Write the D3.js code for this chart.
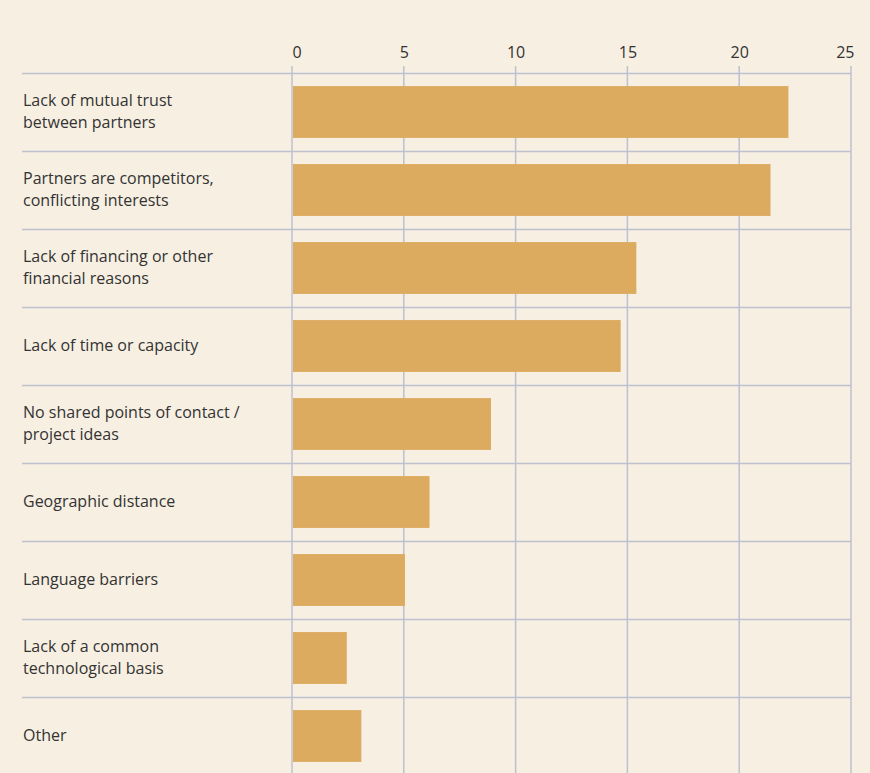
<!DOCTYPE html>
<html>
<head>
<meta charset="utf-8">
<script src="https://cdn.jsdelivr.net/npm/d3@7"></script>
<style>
  html, body { margin: 0; padding: 0; background: #f7efe2; }
  svg { display: block; }
  text { font-family: "Open Sans", "Noto Sans", sans-serif; fill: #333333; }
</style>
</head>
<body>
<svg id="chart" width="870" height="773"></svg>
<script>
const categories = [
  ["Lack of mutual trust", "between partners"],
  ["Partners are competitors,", "conflicting interests"],
  ["Lack of financing or other", "financial reasons"],
  ["Lack of time or capacity"],
  ["No shared points of contact /", "project ideas"],
  ["Geographic distance"],
  ["Language barriers"],
  ["Lack of a common", "technological basis"],
  ["Other"]
];
const values = [22.2, 21.4, 15.4, 14.7, 8.9, 6.15, 5.05, 2.45, 3.1];
const ticks = [0, 5, 10, 15, 20, 25];

const svg = d3.select("#chart");
const lineColor = "#bcc0cf";
const barColor = "#dcab5f";

const x = d3.scaleLinear().domain([0, 25]).range([292, 851]);
const y = d3.scaleBand()
  .domain(d3.range(categories.length))
  .range([73, 73 + 78 * categories.length])
  .paddingInner(0.335)
  .paddingOuter(0.1675);

// row separators
const step = y.step();
svg.append("g")
  .selectAll("line")
  .data(d3.range(categories.length + 1))
  .join("line")
  .attr("x1", 22).attr("x2", x(25))
  .attr("y1", i => 73 + i * step + 0.5)
  .attr("y2", i => 73 + i * step + 0.5)
  .attr("stroke", lineColor)
  .attr("stroke-width", 1.5);

// vertical gridlines
svg.append("g")
  .selectAll("line")
  .data(ticks)
  .join("line")
  .attr("x1", d => x(d)).attr("x2", d => x(d))
  .attr("y1", 66).attr("y2", 773)
  .attr("stroke", lineColor)
  .attr("stroke-width", 1.5);

// bars
svg.append("g")
  .selectAll("rect")
  .data(values)
  .join("rect")
  .attr("x", x(0) + 1)
  .attr("y", (d, i) => y(i))
  .attr("width", d => x(d) - x(0) - 1)
  .attr("height", y.bandwidth())
  .attr("fill", barColor);

// top axis tick labels
const axis = svg.append("g")
  .attr("transform", "translate(0,58)")
  .call(d3.axisTop(x).tickValues(ticks).tickSize(0).tickPadding(0));
axis.select(".domain").remove();
axis.selectAll("text")
  .attr("font-size", 16)
  .attr("fill", "#333333")
  .attr("text-anchor", d => d === 0 ? "start" : d === 25 ? "end" : "middle")
  .attr("dx", d => d === 0 ? 0 : d === 25 ? 3 : 0)
  .style("font-family", "\"Open Sans\", \"Noto Sans\", sans-serif");

// category labels
const labels = svg.append("g")
  .selectAll("text")
  .data(categories)
  .join("text")
  .attr("x", 23)
  .attr("font-size", 16);

labels.each(function(lines, i) {
  const cy = y(i) + y.bandwidth() / 2;
  const lh = 22;
  const y0 = cy - (lines.length - 1) * lh / 2 + 5;
  d3.select(this).selectAll("tspan")
    .data(lines)
    .join("tspan")
    .attr("x", 23)
    .attr("y", (d, k) => y0 + k * lh)
    .text(d => d);
});
</script>
</body>
</html>
